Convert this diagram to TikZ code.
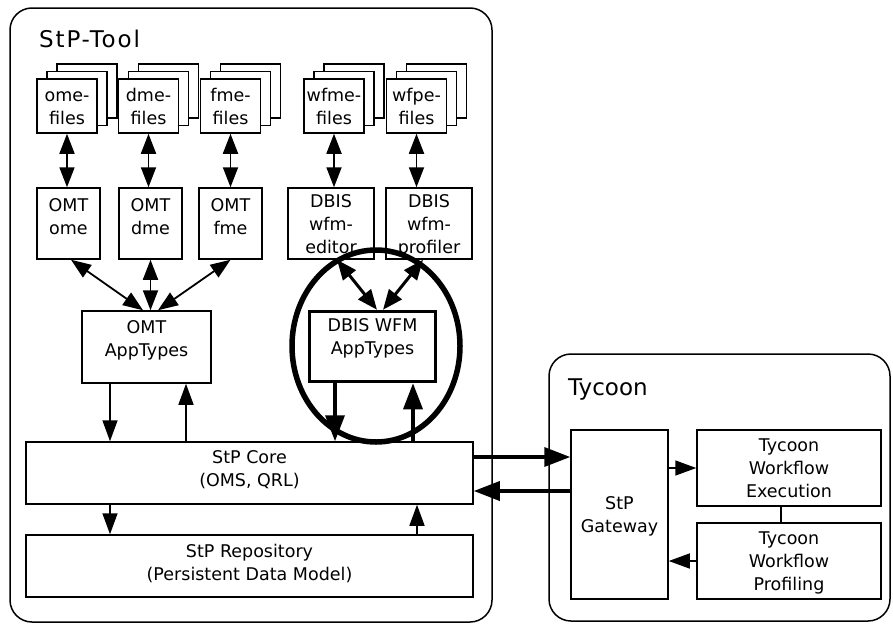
\documentclass[tikz,border=0pt]{standalone}
\usepackage{fontspec}
\setmainfont{DejaVu Sans}
\newfontfamily\spacedfont[LetterSpace=8]{DejaVu Sans}
\usetikzlibrary{arrows.meta,calc}
\newcommand\filestack[4]{%
  \draw[boxline,fill=white] (#2-10,#3-42) rectangle (#2+50,#3+12);
  \draw[boxline,fill=white] (#2-20,#3-34.5) rectangle (#2+40,#3+19.5);
  \node[filebox] (#1) at (#2,#3) {#4};
}
\begin{document}
\begin{tikzpicture}[x=1pt,y=-1pt,
  boxline/.style={line width=1.5pt},
  box/.style={draw,line width=1.5pt,fill=white,inner sep=0pt,align=center,font=\fontsize{17.5}{23}\selectfont},
  two/.style={text height=36pt,text depth=#1},
  three/.style={text height=59pt,text depth=#1},
  filebox/.style={box,two=-8pt,minimum width=60pt,minimum height=54pt},
  container/.style={draw,line width=1.5pt,rounded corners=22pt,inner sep=0pt},
  title/.style={inner sep=0pt,anchor=base west,font=\fontsize{23}{27}\selectfont},
  arr/.style={line width=1.5pt,-{Triangle[length=21pt,width=15pt]}},
  darr/.style={line width=1.8pt,{Triangle[length=20pt,width=15pt]}-{Triangle[length=20pt,width=15pt]}},
  tdarr/.style={line width=3pt,{Triangle[length=20pt,width=16pt]}-{Triangle[length=20pt,width=16pt]}},
  tarr/.style={line width=3.5pt,-{Triangle[length=26pt,width=19pt]}}
]
\fill[white] (0,0) rectangle (893,624);
\useasboundingbox (0,0) rectangle (893,624);
% containers
\node[container,minimum width=482pt,minimum height=614pt] (stptool) at (251,315) {};
\node[container,minimum width=341pt,minimum height=267pt] (tycoon) at (719.5,487.5) {};
\node[title] (t1) at (39,47) {\spacedfont StP-Tool};
\node[title] (t2) at (568,395) {Tycoon};
% file stacks
\filestack{omef}{67}{106}{ome-\\files}
\filestack{dmef}{148.5}{106}{dme-\\files}
\filestack{fmef}{230.5}{106}{fme-\\files}
\filestack{wfmef}{334}{106}{wfme-\\files}
\filestack{wfpef}{416.5}{106}{wfpe-\\files}
% editors
\node[box,two=15pt,minimum width=63pt,minimum height=71pt] (omtome) at (68.5,223.5) {OMT\\ome};
\node[box,two=15pt,minimum width=63pt,minimum height=71pt] (omtdme) at (150.5,223.5) {OMT\\dme};
\node[box,two=15pt,minimum width=63pt,minimum height=71pt] (omtfme) at (230.5,223.5) {OMT\\fme};
\node[box,three=-4pt,minimum width=86pt,minimum height=71pt] (dbised) at (331,223.5) {DBIS\\wfm-\\editor};
\node[box,three=-4pt,minimum width=86pt,minimum height=71pt] (dbispr) at (429,223.5) {DBIS\\wfm-\\profiler};
% app types
\node[box,two=18pt,minimum width=129pt,minimum height=72pt] (omtapp) at (146.5,347) {OMT\\AppTypes};
\node[box,two=20pt,line width=3.5pt,minimum width=126pt,minimum height=70pt] (dbisapp) at (372.5,346.5) {DBIS WFM\\AppTypes};
% core and repository
\node[box,two=10pt,minimum width=447pt,minimum height=62pt] (core) at (249.5,473) {StP Core\\(OMS, QRL)};
\node[box,two=8pt,minimum width=447pt,minimum height=62pt] (repo) at (249.5,566) {StP Repository\\(Persistent Data Model)};
% tycoon
\node[box,two=0pt,minimum width=97pt,minimum height=169pt] (gw) at (619.5,514.5) {StP\\Gateway};
\node[box,three=-1pt,minimum width=184pt,minimum height=76pt] (exec) at (789,468) {Tycoon\\Workflow\\Execution};
\node[box,three=0pt,minimum width=184pt,minimum height=76pt] (prof) at (789,561) {Tycoon\\Workflow\\Profiling};
% files <-> editors
\foreach \f/\o in {omef/omtome,dmef/omtdme,fmef/omtfme,wfmef/dbised,wfpef/dbispr}
  \draw[darr] (\f.south) -- (\f.south |- \o.north);
% editors <-> app types
\draw[darr] ([xshift=2.5pt]omtome.south) -- ([xshift=-3.5pt]omtapp.north);
\draw[darr] (omtdme.south) -- (omtdme.south |- omtapp.north);
\draw[darr] (omtfme.south) -- ([xshift=11.5pt]omtapp.north);
\draw[tdarr] ([xshift=6pt]dbised.south) -- ([xshift=4.5pt]dbisapp.north);
\draw[tdarr] ([xshift=-6pt]dbispr.south) -- ([xshift=10.5pt]dbisapp.north);
% app types <-> core
\coordinate (a1) at ([xshift=-36.5pt]omtapp.south);
\coordinate (a2) at ([xshift=39.5pt]omtapp.south);
\coordinate (a3) at ([xshift=-37.5pt]dbisapp.south);
\coordinate (a4) at ([xshift=40.5pt]dbisapp.south);
\draw[arr] (a1) -- (a1 |- core.north);
\draw[arr] (a2 |- core.north) -- (a2);
\draw[tarr] (a3) -- (a3 |- core.north);
\draw[tarr] (a4 |- core.north) -- (a4);
% core <-> repository
\coordinate (r1) at ([xshift=-139.5pt]core.south);
\coordinate (r2) at ([xshift=167.5pt]core.south);
\draw[arr] (r1) -- (r1 |- repo.north);
\draw[arr] (r2 |- repo.north) -- (r2);
% core <-> gateway
\coordinate (c1) at ([yshift=16pt]core.east);
\coordinate (c2) at ([yshift=-18pt]core.east);
\draw[tarr] (c1) -- (c1 -| gw.west);
\draw[tarr] (c2 -| gw.west) -- (c2);
% gateway <-> workflow
\draw[arr] (exec.west -| gw.east) -- (exec.west);
\draw[arr] (prof.west) -- (prof.west -| gw.east);
\draw[boxline] ([xshift=-8pt]exec.south) -- ([xshift=-8pt]prof.north);
% highlight ellipse
\draw[line width=5.5pt] (376,346) ellipse [x radius=84pt, y radius=96pt];
\end{tikzpicture}
\end{document}
